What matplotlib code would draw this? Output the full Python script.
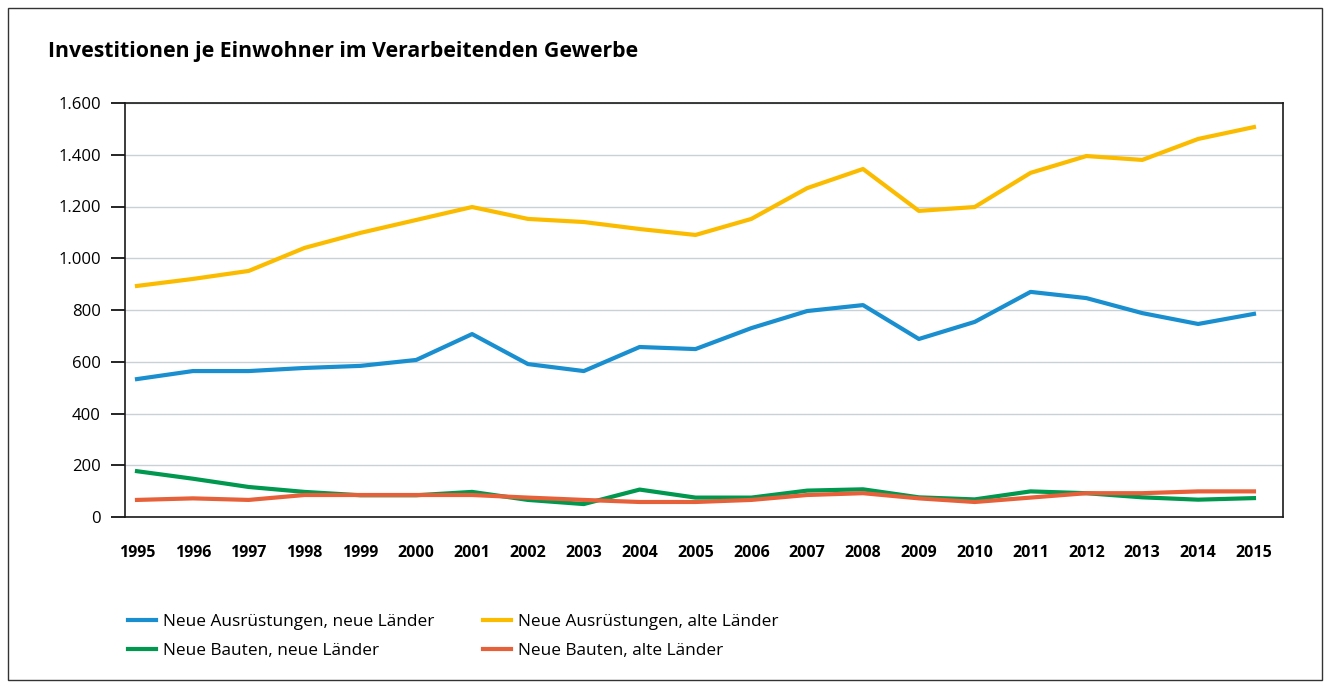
import matplotlib
matplotlib.use("Agg")
import matplotlib.pyplot as plt
from matplotlib.patches import Rectangle
from matplotlib.ticker import FuncFormatter

years = list(range(1995, 2016))
ausr_neu = [533, 564, 564, 576, 584, 607, 707, 591, 564, 657, 649, 730, 796, 819, 688, 754, 870, 846, 788, 746, 785]
ausr_alt = [893, 920, 951, 1040, 1098, 1148, 1198, 1152, 1140, 1113, 1090, 1152, 1271, 1345, 1183, 1198, 1330, 1395, 1380, 1461, 1507]
bauten_neu = [177, 148, 116, 97, 84, 84, 97, 66, 50, 106, 75, 75, 102, 107, 76, 68, 99, 92, 76, 67, 73]
bauten_alt = [66, 72, 66, 85, 85, 85, 85, 75, 66, 58, 58, 66, 85, 92, 72, 58, 75, 92, 92, 99, 99]
labels = ["Neue Ausrüstungen, neue Länder", "Neue Ausrüstungen, alte Länder",
          "Neue Bauten, neue Länder", "Neue Bauten, alte Länder"]
title = "Investitionen je Einwohner im Verarbeitenden Gewerbe"

c_blue = "#1a8fd0"
c_yellow = "#fbbc00"
c_green = "#00984f"
c_red = "#e6603a"

plt.rcParams['font.family'] = ['Open Sans', 'DejaVu Sans']

fig = plt.figure(figsize=(13.33, 6.88), dpi=100)
fig.patches.append(Rectangle((8/1333, 8/688), 1314/1333, 672/688, transform=fig.transFigure,
                             fill=False, edgecolor="#333333", linewidth=1.0))
ax = fig.add_axes([125/1333, 171/688, 1158/1333, 414/688])

ax.plot(years, ausr_neu, color=c_blue, lw=3, label=labels[0], zorder=3)
ax.plot(years, ausr_alt, color=c_yellow, lw=3, label=labels[1], zorder=3)
ax.plot(years, bauten_neu, color=c_green, lw=3, label=labels[2], zorder=3)
ax.plot(years, bauten_alt, color=c_red, lw=3, label=labels[3], zorder=4)

ax.set_xlim(1994.785, 2015.52)
ax.set_ylim(0, 1600)
ax.set_yticks(range(0, 1601, 200))
ax.yaxis.set_major_formatter(FuncFormatter(lambda v, p: f"{int(v):,}".replace(",", ".")))
ax.set_xticks(years)
ax.set_xticklabels([str(y) for y in years], fontweight="bold", fontsize=11.5)
ax.tick_params(axis='x', length=0, pad=20)
ax.tick_params(axis='y', length=10, width=1.2, labelsize=12, pad=7.5)
ax.grid(axis='y', color="#c9d1d4", lw=1)
ax.set_axisbelow(True)
for s in ax.spines.values():
    s.set_color("#1a1a1a")
    s.set_linewidth(1.2)

fig.text(48/1333, 1 - 52/688, title, fontsize=15.3, fontweight="bold", va="center", ha="left")

h, l = ax.get_legend_handles_labels()
order = [0, 2, 1, 3]
fig.legend([h[i] for i in order], [l[i] for i in order], ncol=2, loc="upper left",
           bbox_to_anchor=(121/1333, 1 - 607/688), frameon=False, fontsize=12.4,
           handlelength=1.63, columnspacing=2.85, labelspacing=0.77, handletextpad=0.4,
           borderaxespad=0)

fig.savefig("out.png", dpi=100)
